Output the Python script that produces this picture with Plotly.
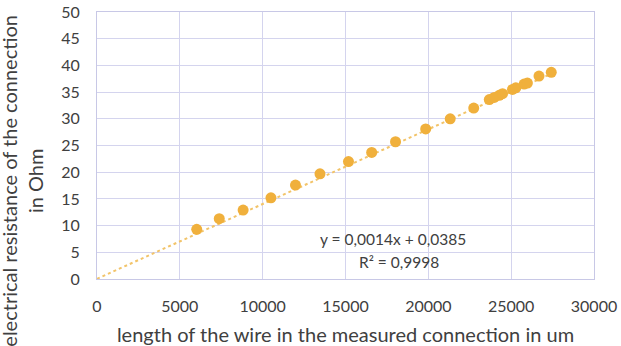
import plotly.graph_objects as go

length_um = [6020, 7380, 8820, 10500, 11980, 13460, 15180, 16580, 18020, 19840,
             21320, 22740, 23680, 23980, 24280, 24480, 25080, 25280, 25780, 25980,
             26680, 27420]
resistance_ohm = [9.3, 11.3, 12.9, 15.2, 17.6, 19.7, 22.0, 23.7, 25.7, 28.1,
                  30.0, 32.0, 33.6, 34.0, 34.4, 34.7, 35.5, 35.8, 36.5, 36.7,
                  38.0, 38.7]
slope = 0.0014
intercept = 0.0385
eq_text = "y = 0,0014x + 0,0385"
r2_text = "R² = 0,9998"
x_title = "length of the wire in the measured connection in um"
y_title = "electrical resistance of the connection<br>in Ohm"
x_ticks = [0, 5000, 10000, 15000, 20000, 25000, 30000]
y_ticks = list(range(0, 51, 5))

color = "#F0B03C"
grid = "#D4D4EE"
font_fam = "Lato, Open Sans, sans-serif"
text_col = "#404040"

trend_x = [0, max(length_um)]
trend_y = [slope * v + intercept for v in trend_x]

fig = go.Figure()
fig.add_trace(go.Scatter(x=trend_x, y=trend_y, mode="lines",
                         line=dict(color="#F2C46A", width=2, dash="dot"),
                         showlegend=False, hoverinfo="skip"))
fig.add_trace(go.Scatter(x=length_um, y=resistance_ohm, mode="markers",
                         marker=dict(color=color, size=11),
                         showlegend=False))

fig.add_annotation(x=13340, y=7.5, text=eq_text, showarrow=False, xanchor="left",
                   font=dict(size=15.5, color=text_col, family=font_fam))
fig.add_annotation(x=15690, y=3.2, text=r2_text, showarrow=False, xanchor="left",
                   font=dict(size=15.5, color=text_col, family=font_fam))

# y-axis title placed as rotated annotation (it sits lower than the plot centre)
fig.add_annotation(xref="paper", yref="paper", x=-0.15, y=0.37,
                   text=y_title, textangle=-90, showarrow=False,
                   xanchor="center", yanchor="middle",
                   font=dict(size=20, color=text_col, family=font_fam))

fig.update_layout(
    width=621, height=346,
    margin=dict(l=97, r=27, t=12, b=67),
    paper_bgcolor="white", plot_bgcolor="white",
    font=dict(family=font_fam, color=text_col, size=16),
    xaxis=dict(range=[0, 30000], tickvals=x_ticks, ticktext=[str(v) for v in x_ticks],
               showgrid=True, gridcolor=grid, gridwidth=1, automargin=False,
               showline=True, linecolor="#C8C8E6", mirror=True, zeroline=False,
               ticks="outside", ticklen=13, tickcolor="rgba(0,0,0,0)",
               ticklabeloverflow="allow",
               tickfont=dict(size=16, color=text_col),
               title=dict(text=x_title,
                          font=dict(size=20, color=text_col), standoff=14)),
    yaxis=dict(range=[0, 50], tickvals=y_ticks,
               showgrid=True, gridcolor=grid, gridwidth=1, automargin=False,
               showline=True, linecolor="#C8C8E6", mirror=True, zeroline=False,
               ticks="outside", ticklen=13, tickcolor="rgba(0,0,0,0)",
               ticklabeloverflow="allow",
               tickfont=dict(size=16, color=text_col)),
)

fig.write_html("out.html",
               config={"displayModeBar": False},
               post_script="document.body.style.margin='0';"
                           "document.documentElement.style.overflow='hidden';")
